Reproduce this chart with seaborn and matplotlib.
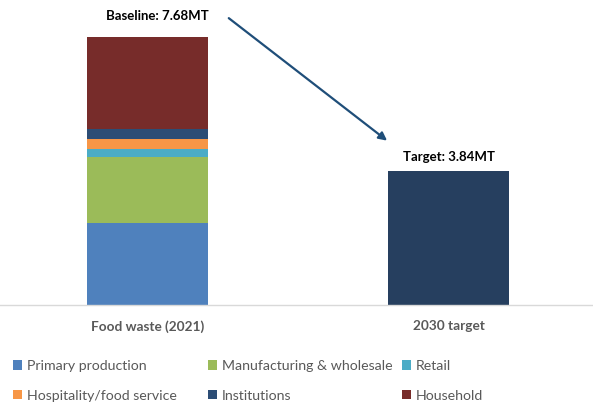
import matplotlib
matplotlib.use("Agg")
import matplotlib.pyplot as plt
import seaborn as sns

# datos (millones de toneladas)
categories = ["Food waste (2021)", "2030 target"]
sectors = ["Primary production", "Manufacturing & wholesale", "Retail",
           "Hospitality/food service", "Institutions", "Household"]
sector_values = [2.35, 1.89, 0.23, 0.28, 0.27, 2.66]
sector_colors = ["#4F81BD", "#9BBB59", "#4BACC6", "#F79646", "#2C4D75", "#772C2A"]
target_value = 3.84
target_color = "#263F5F"
baseline_label = "Baseline: 7.68MT"
target_label = "Target: 3.84MT"

sns.set_style("white")
plt.rcParams["font.family"] = ["Lato", "DejaVu Sans"]

fig = plt.figure(figsize=(5.93, 4.05), dpi=100)
ax = fig.add_axes([0, 0.2477, 1, 0.7523])

# barra apilada
bottom = 0
for name, val, col in zip(sectors, sector_values, sector_colors):
    sns.barplot(x=[categories[0]], y=[val], order=categories, color=col,
                saturation=1, width=0.4, bottom=bottom, ax=ax,
                edgecolor="none", linewidth=0)
    bottom += val

# barra objetivo
sns.barplot(x=[categories[1]], y=[target_value], order=categories, color=target_color,
            saturation=1, width=0.4, ax=ax, edgecolor="none", linewidth=0)

ax.set_xlim(-0.49, 1.48)
ax.set_ylim(0, 8.73)
ax.set_xlabel("")
ax.set_ylabel("")
ax.set_yticks([])
for s in ["top", "left", "right"]:
    ax.spines[s].set_visible(False)
ax.spines["bottom"].set_color("#D9D9D9")
ax.spines["bottom"].set_linewidth(1)
ax.tick_params(axis="x", length=0, pad=11)
for t in ax.get_xticklabels():
    t.set_fontsize(9.8)
    t.set_fontweight("bold")
    t.set_color("#595959")

ax.text(0.032, 8.27, baseline_label, ha="center", va="center",
        fontsize=9.5, fontweight="bold", color="black")
ax.text(1.0, 4.23, target_label, ha="center", va="center",
        fontsize=9.5, fontweight="bold", color="black")

ax.annotate("", xy=(0.796, 4.70), xytext=(0.27, 8.21),
            arrowprops=dict(arrowstyle="-|>", color="#1F4E79", lw=1.6,
                            mutation_scale=12, shrinkA=0, shrinkB=0))

# leyenda en tres columnas
handles = ax.containers[:6]
cols = [(0, 3), (1, 4), (2, 5)]
col_x = [13, 208, 402]
for (i, j), x in zip(cols, col_x):
    fig.legend([handles[i], handles[j]], [sectors[i], sectors[j]],
               loc="upper left", bbox_to_anchor=(x / 593, 1 - 360 / 405),
               frameon=False, fontsize=10.2, labelcolor="#595959",
               handlelength=0.62, handleheight=0.62, handletextpad=0.35,
               borderpad=0, borderaxespad=0, labelspacing=1.25)

fig.savefig("out.png", dpi=100)
